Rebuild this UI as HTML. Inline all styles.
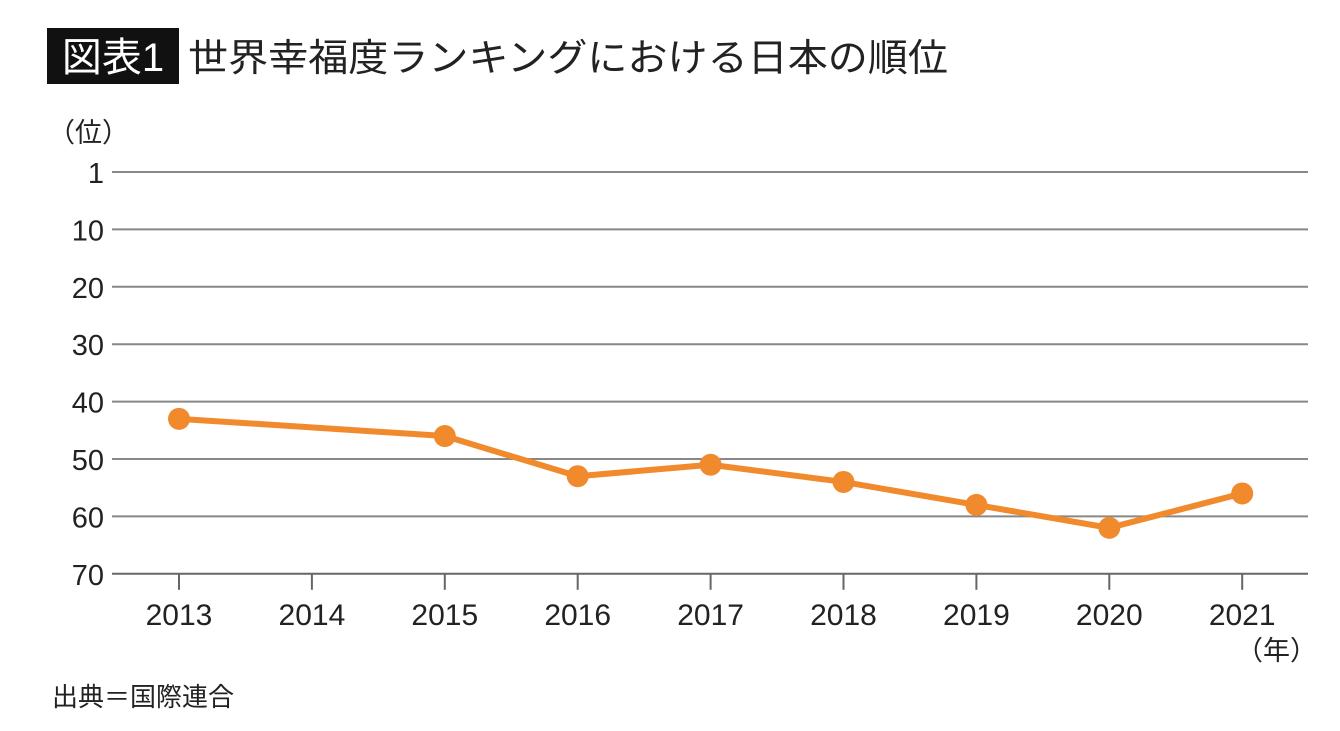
<!DOCTYPE html>
<html><head><meta charset="utf-8"><style>
body{margin:0;background:#fff;width:1340px;height:726px;overflow:hidden}
svg text{font-family:"Liberation Sans","Noto Sans CJK JP",sans-serif;fill:#222}
</style></head><body>
<svg id="chart" width="1340" height="726" viewBox="0 0 1340 726">
<rect x="47" y="28" width="132" height="56" fill="#111"/>
<text x="113" y="71" text-anchor="middle" font-size="40" style="fill:#fff">図表1</text>
<text x="188" y="71" font-size="38" textLength="760" lengthAdjust="spacingAndGlyphs">世界幸福度ランキングにおける日本の順位</text>
<text x="48" y="142" font-size="27">（位）</text>
<text x="1236" y="660" font-size="27">（年）</text>
<text x="52" y="706" font-size="26">出典＝国際連合</text>
<g id="grid"></g><g id="marks"></g>
</svg>
<script>
const yTicks=[0,10,20,30,40,50,60,70];
const yTickLabels=["1","10","20","30","40","50","60","70"];
const years=["2013","2014","2015","2016","2017","2018","2019","2020","2021"];
const ranks=[43,null,46,53,51,54,58,62,56];
const NS="http://www.w3.org/2000/svg";
const x0=112,x1=1308;
function yS(v){return 172+v*5.74;}
function xS(i){return 179+i*132.9;}
function mk(t,a,p){const e=document.createElementNS(NS,t);for(const k in a)e.setAttribute(k,a[k]);p.appendChild(e);return e;}
const g=document.getElementById('grid'),m=document.getElementById('marks');
yTicks.forEach((v,i)=>{
 const l=mk('line',{x1:x0,x2:x1,y1:yS(v),y2:yS(v),stroke:i==yTicks.length-1?'#666':'#888','stroke-width':2},g);
 
 
 const t=mk('text',{x:104,y:yS(v)+11,'text-anchor':'end','font-size':29},g);t.textContent=yTickLabels[i];
 
 
});
years.forEach((y,i)=>{
 const l=mk('line',{x1:xS(i),x2:xS(i),y1:yS(70),y2:yS(70)+16,stroke:'#666','stroke-width':2},g);
 
 
 const t=mk('text',{x:xS(i),y:625,'text-anchor':'middle','font-size':30},g);t.textContent=y;
 
 
});
const pts=[];ranks.forEach((r,i)=>{if(r!==null)pts.push([xS(i),yS(r)]);});
const pl=mk('polyline',{points:pts.map(p=>p.join(',')).join(' '),fill:'none',stroke:'#F08A2C','stroke-width':6,'stroke-linejoin':'round'},m);


pts.forEach(p=>{const c=mk('circle',{cx:p[0],cy:p[1],r:11,fill:'#F08A2C'},m);
 
 });
</script>
</body></html>
